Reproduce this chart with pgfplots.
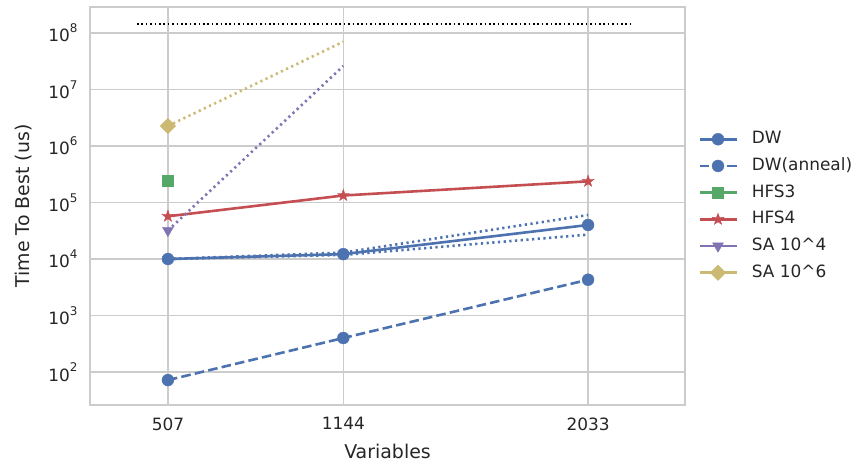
\documentclass[border=0pt]{standalone}
\usepackage{fontspec}
\setmainfont{DejaVu Sans}
\usepackage{pgfplots}
\pgfplotsset{compat=1.18}
\definecolor{cblue}{HTML}{4C72B0}
\definecolor{cgreen}{HTML}{55A868}
\definecolor{cred}{HTML}{C44E52}
\definecolor{cpurple}{HTML}{8172B2}
\definecolor{cyellow}{HTML}{CCB974}
\definecolor{txt}{HTML}{262626}
\definecolor{gridc}{HTML}{CCCCCC}
\newcommand{\tp}[1]{10\raisebox{0.55em}{\fontsize{12}{12}\selectfont #1}}
\pgfdeclareplotmark{fstar}{%
 \pgfpathmoveto{\pgfpointpolar{90}{\pgfplotmarksize}}%
 \pgfpathlineto{\pgfpointpolar{126}{0.4\pgfplotmarksize}}%
 \pgfpathlineto{\pgfpointpolar{162}{\pgfplotmarksize}}%
 \pgfpathlineto{\pgfpointpolar{198}{0.4\pgfplotmarksize}}%
 \pgfpathlineto{\pgfpointpolar{234}{\pgfplotmarksize}}%
 \pgfpathlineto{\pgfpointpolar{270}{0.4\pgfplotmarksize}}%
 \pgfpathlineto{\pgfpointpolar{306}{\pgfplotmarksize}}%
 \pgfpathlineto{\pgfpointpolar{342}{0.4\pgfplotmarksize}}%
 \pgfpathlineto{\pgfpointpolar{18}{\pgfplotmarksize}}%
 \pgfpathlineto{\pgfpointpolar{54}{0.4\pgfplotmarksize}}%
 \pgfpathclose
 \pgfusepathqfillstroke}
\begin{document}
\begin{tikzpicture}
\useasboundingbox (-90bp,-61bp) rectangle (767bp,405bp);
\begin{axis}[
  scale only axis, width=595bp, height=398bp,
  at={(0,0)}, anchor=south west,
  xmin=224, xmax=2385, ymode=log, ymin=26.1, ymax=2.88e8,
  xtick={507,1144,2033}, xticklabels={507,1144,2033},
  ytick={1e2,1e3,1e4,1e5,1e6,1e7,1e8},
  yticklabels={\tp{2},\tp{3},\tp{4},\tp{5},\tp{6},\tp{7},\tp{8}},
  major tick length=0pt, minor tick length=0pt,
  xmajorgrids, ymajorgrids,
  major grid style={draw=gridc, line width=1.2bp},
  axis line style={draw=gridc, line width=1.2bp},
  xticklabel style={font=\fontsize{17}{20}\selectfont, text=txt, yshift=-9bp},
  yticklabel style={font=\fontsize{17}{20}\selectfont, text=txt, xshift=-9bp},
  xlabel={Variables}, ylabel={Time To Best (us)},
  xlabel style={at={(axis description cs:0.5,-0.1156)}, anchor=center, font=\fontsize{19}{22}\selectfont, text=txt},
  ylabel style={at={(axis description cs:-0.1109,0.5)}, anchor=center, font=\fontsize{19}{22}\selectfont, text=txt},
  legend style={draw=none, fill=none, at={(axis description cs:1,0.5)}, anchor=west, xshift=13bp,
    font=\fontsize{17}{20}\selectfont, text=txt, inner sep=0pt, row sep=9.7bp, column sep=14bp,
    nodes={inner sep=0pt, text height=13bp, text depth=4bp}},
  legend cell align=left,
  legend image code/.code={\draw[mark repeat=2,mark phase=2] plot coordinates {(0bp,0bp)(18.5bp,0bp)(37bp,0bp)};},
]
% legend series
\addplot[cblue, line width=2.6bp, mark=*, mark size=6bp, mark options={solid, fill=cblue, draw=cblue, line width=0.3bp}]
  coordinates {(507,1.0e4) (1144,1.22e4) (2033,4.0e4)};
\addlegendentry{DW}
\addplot[cblue, line width=2.6bp, dash pattern=on 9.6bp off 4.2bp, mark=*, mark size=6bp, mark options={solid, fill=cblue, draw=cblue, line width=0.3bp}]
  coordinates {(507,72) (1144,400) (2033,4.3e3)};
\addlegendentry{DW(anneal)}
\addplot[cgreen, line width=2.6bp, mark=square*, mark size=5.5bp, mark options={solid, fill=cgreen, draw=cgreen, line width=0.3bp}]
  coordinates {(507,2.48e5)};
\addlegendentry{HFS3}
\addplot[cred, line width=2.6bp, mark=fstar, mark size=6.3bp, mark options={solid, fill=cred, draw=cred, line width=0.3bp}]
  coordinates {(507,5.7e4) (1144,1.33e5) (2033,2.37e5)};
\addlegendentry{HFS4}
\addplot[cpurple, line width=2.6bp, mark=triangle*, mark size=6.3bp, mark options={solid, rotate=180, fill=cpurple, draw=cpurple, line width=0.3bp}]
  coordinates {(507,3.2e4)};
\addlegendentry{SA 10\^{}4}
\addplot[cyellow, line width=2.6bp, mark=square*, mark size=5.5bp, mark options={solid, rotate=45, fill=cyellow, draw=cyellow, line width=0.3bp}]
  coordinates {(507,2.26e6)};
\addlegendentry{SA 10\^{}6}
% dotted extras
\addplot[forget plot, cblue, line width=2.6bp, dash pattern=on 2.2bp off 3.5bp]
  coordinates {(507,1.0e4) (1144,1.3e4) (2033,6.0e4)};
\addplot[forget plot, cblue, line width=2.6bp, dash pattern=on 2.2bp off 3.5bp]
  coordinates {(507,1.0e4) (1144,1.18e4) (2033,2.7e4)};
\addplot[forget plot, cpurple, line width=2.6bp, dash pattern=on 2.2bp off 3.5bp]
  coordinates {(507,3.2e4) (1144,2.6e7)};
\addplot[forget plot, cyellow, line width=2.6bp, dash pattern=on 2.2bp off 3.5bp]
  coordinates {(507,2.26e6) (1144,7.0e7)};
\addplot[forget plot, black, line width=2.2bp, dash pattern=on 1.6bp off 2.8bp]
  coordinates {(395,1.44e8) (2190,1.44e8)};
\end{axis}
\end{tikzpicture}
\end{document}
